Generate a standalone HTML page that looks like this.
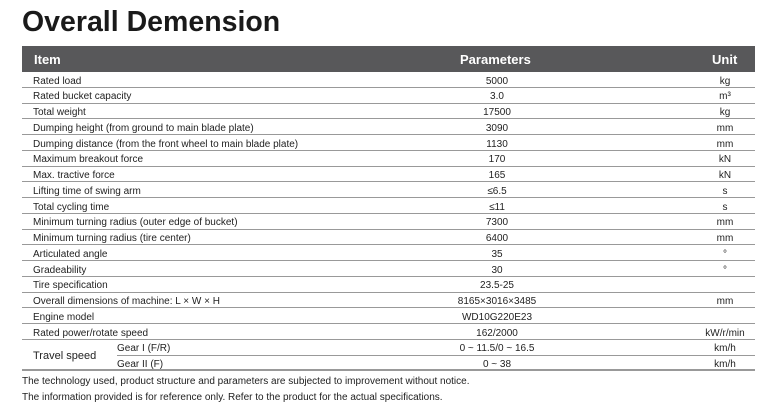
<!DOCTYPE html>
<html><head><meta charset="utf-8"><style>
body{margin:0;width:780px;height:420px;background:#fff;position:relative;overflow:hidden;font-family:"Liberation Sans",Arial,sans-serif;color:#222}
h1{position:absolute;left:22px;top:6px;margin:0;font-size:28.5px;font-weight:bold;color:#1a1a1a}
.hdr{position:absolute;left:22px;top:46px;width:733px;height:26px;background:#58585a;color:#fff;font-weight:bold;font-size:13px}
.hdr span{position:absolute;top:6px}
.row{position:absolute;left:22px;width:733px;height:15.75px;border-bottom:1px solid #999;font-size:10px;box-sizing:border-box}
.row span{position:absolute;top:3.5px;white-space:nowrap}
.c1{left:11px}
.p{position:absolute;left:475px;width:0;display:flex;justify-content:center}
.u{position:absolute;left:703px;width:0;display:flex;justify-content:center}
.foot{position:absolute;left:22px;font-size:10px;color:#222}
</style></head><body>
<h1>Overall Demension</h1>
<div class="hdr"><span style="left:12px">Item</span><span style="left:438px">Parameters</span><span style="left:690px">Unit</span></div>
<div id="rows"></div>
<div class="foot" style="top:376px">The technology used, product structure and parameters are subjected to improvement without notice.</div>
<div class="foot" style="top:392px">The information provided is for reference only. Refer to the product for the actual specifications.</div>
<script>
var d=[["Rated load","5000","kg"],["Rated bucket capacity","3.0","m³"],["Total weight","17500","kg"],["Dumping height (from ground to main blade plate)","3090","mm"],["Dumping distance (from the front wheel to main blade plate)","1130","mm"],["Maximum breakout force","170","kN"],["Max. tractive force","165","kN"],["Lifting time of swing arm","≤6.5","s"],["Total cycling time","≤11","s"],["Minimum turning radius (outer edge of bucket)","7300","mm"],["Minimum turning radius (tire center)","6400","mm"],["Articulated angle","35","°"],["Gradeability","30","°"],["Tire specification","23.5-25",""],["Overall dimensions of machine: L × W × H","8165×3016×3485","mm"],["Engine model","WD10G220E23",""],["Rated power/rotate speed","162/2000","kW/r/min"]];
var h="";
d.forEach(function(r,i){var t=72+i*15.75;h+='<div class="row" style="top:'+t+'px"><span class="c1">'+r[0]+'</span><span class="p">'+r[1]+'</span><span class="u">'+r[2]+'</span></div>';});
var t=72+17*15.75;
h+='<div class="row" style="top:'+t+'px;left:117px;width:638px"><span style="left:0">Gear I (F/R)</span><span class="p" style="left:380px">0 ~ 11.5/0 ~ 16.5</span><span class="u" style="left:608px">km/h</span></div>';
h+='<div class="row" style="top:'+(t+15.75)+'px;width:733px;border-bottom:2px solid #999"><span style="left:95px">Gear II (F)</span><span class="p">0 ~ 38</span><span class="u">km/h</span></div>';
h+='<div style="position:absolute;left:33px;top:'+(t+10)+'px;font-size:11px">Travel speed</div>';
document.getElementById("rows").innerHTML=h;
</script>
</body></html>
